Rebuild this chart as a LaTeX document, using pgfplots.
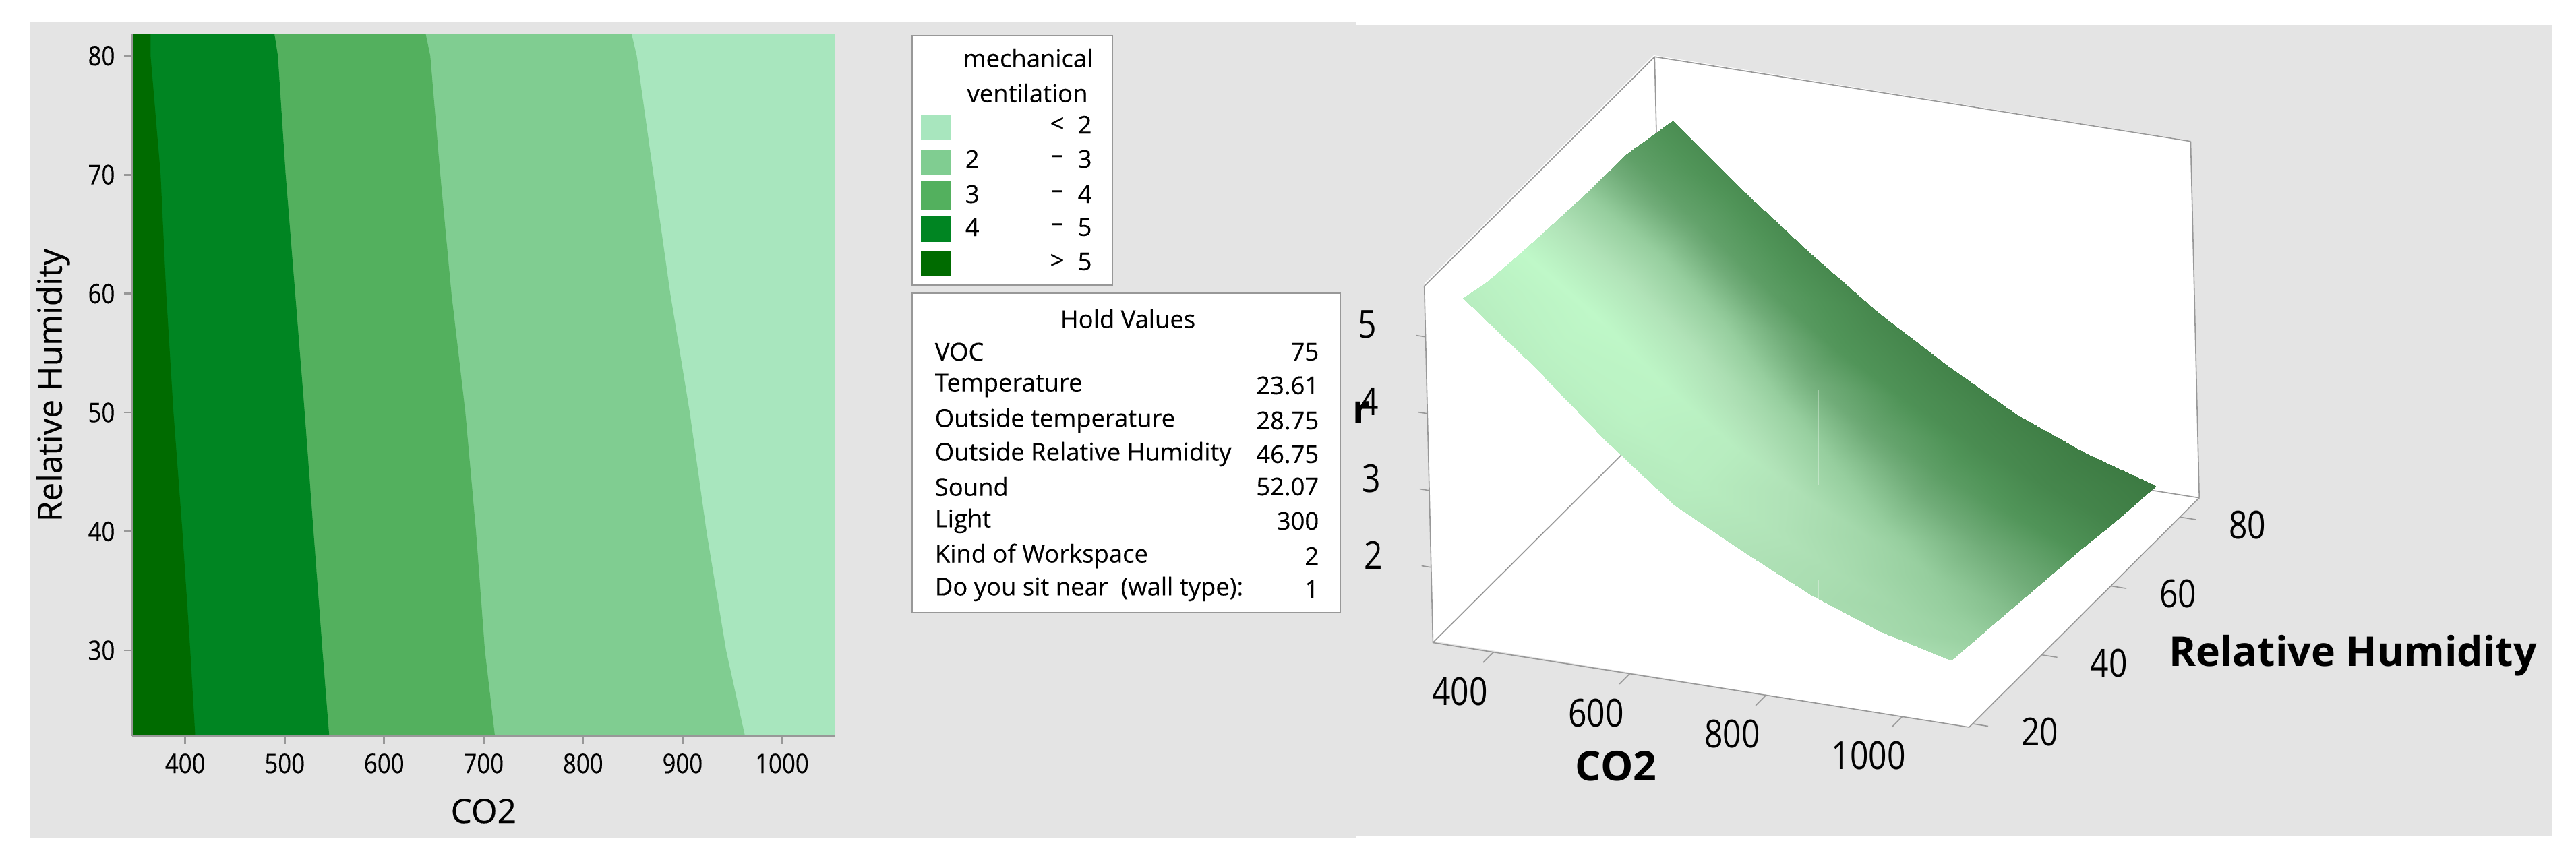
\documentclass[border=0pt]{standalone}
\usepackage{pgfplots}
\pgfplotsset{compat=1.18}
\usepackage{fontspec}
\setmainfont{Open Sans}
\newfontfamily\medfont[FakeBold=0.25]{Open Sans}
\newfontfamily\tickfont[FakeStretch=0.87,FakeBold=0.25]{Open Sans}
\newfontfamily\narrowfont[FakeStretch=0.84]{Open Sans}
\definecolor{pgrey}{HTML}{E4E4E4}
\definecolor{cA}{HTML}{A8E6BE}
\definecolor{cB}{HTML}{80CD91}
\definecolor{cC}{HTML}{53B05E}
\definecolor{cD}{HTML}{008522}
\definecolor{cE}{HTML}{006B00}
\definecolor{boxline}{HTML}{989898}
\newcommand{\lab}{\medfont\fontsize{9.1}{10}\selectfont}
\begin{document}
\begin{tikzpicture}
\path[use as bounding box] (0,0) rectangle (955.25pt,320.5pt);
\begin{scope}[shift={(0,320.5pt)},x=0.25pt,y=-0.25pt]
  \fill[pgrey] (44,32) rectangle (2011,1244);
  \fill[pgrey] (2011,37) rectangle (3785,1241);
  % legend
  \draw[boxline,line width=0.5pt,fill=white] (1352.6,52.7) rectangle (1650.2,423);
  \draw[boxline,line width=0.5pt,fill=white] (1352.6,435) rectangle (1988,909);
  \fill[cA] (1366,171) rectangle (1411,208);
  \fill[cB] (1366,222) rectangle (1411,259);
  \fill[cC] (1366,269) rectangle (1411,311);
  \fill[cD] (1366,321) rectangle (1411,359);
  \fill[cE] (1366,372) rectangle (1411,410);
  \node[font=\lab] at (1525,86) {mechanical};
  \node[font=\lab] at (1524,138) {ventilation};
  \foreach \yy/\a/\b/\c in {185//{<}/2,236/2/{–}/3,288/3/{–}/4,337/4/{–}/5,388//{>}/5}{
    \node[font=\lab,anchor=west,inner sep=0pt] at (1431,\yy) {\a};
    \node[font=\lab,inner sep=0pt] at (1568,\yy) {\b};
    \node[font=\lab,inner sep=0pt] at (1609,\yy) {\c};
  }
  \node[font=\lab] at (1673,473) {Hold Values};
  \foreach \yy/\a/\b in {522/VOC/75,572/Temperature/23.61,624/Outside temperature/28.75,674/Outside Relative Humidity/46.75,722/Sound/52.07,773/Light/300,825/Kind of Workspace/2,874/Do you sit near\ \ (wall type):/1}{
    \node[font=\lab,anchor=west,inner sep=0pt] at (1386,\yy) {\a};
    \node[font=\lab,anchor=east,inner sep=0pt] at (1957,\yy) {\b};
  }
  % 3D box walls (white)
  \fill[white] (2112.7,421) -- (2453,82) -- (3248.6,208.5) -- (3262.5,740) -- (2921,1079) -- (2125.4,951) -- cycle;
  \node[font=\bfseries\fontsize{15.2}{17}\selectfont,inner sep=0pt] at (3490,973) {Relative Humidity};
  \node[font=\bfseries\fontsize{15.2}{17}\selectfont,inner sep=0pt] at (2397,1136.6) {CO2};
  \node[font=\bfseries\fontsize{14.3}{16}\selectfont,inner sep=0pt] at (2019,612) {r};
\end{scope}

% left contour plot
\begin{axis}[
  at={(49.125pt,47.5pt)},anchor=south west,
  scale only axis,width=260.4pt,height=260.25pt,
  xmin=347,xmax=1053,ymin=22.8,ymax=81.8,
  axis x line*=bottom,axis y line*=left,
  axis line style={boxline,-,line width=0.7pt},
  tick align=outside,major tick length=3pt,
  tick style={boxline,line width=0.7pt},
  xtick={400,500,600,700,800,900,1000},
  ytick={30,40,50,60,70,80},
  /pgf/number format/assume math mode=true,
  /pgf/number format/set thousands separator={},
  tick label style={font=\tickfont\fontsize{10}{12}\selectfont},
  xlabel={CO2},ylabel={Relative Humidity},
  label style={font=\medfont\fontsize{12.4}{14}\selectfont},
  xlabel style={at={(axis description cs:0.5,-0.107)},anchor=center},
  ylabel style={at={(axis description cs:-0.113,0.5)},anchor=center},
  axis on top,
]
\addplot[fill=cA,draw=none] coordinates {(347,22.8)(1053,22.8)(1053,81.8)(347,81.8)} -- cycle;
\addplot[fill=cB,draw=none] coordinates {(347,22.8)(962.8,22.8)(943.8,30)(924.1,40)(907.3,50)(887.7,60)(870.8,70)(854,80)(848.9,81.8)(347,81.8)} -- cycle;
\addplot[fill=cC,draw=none] coordinates {(347,22.8)(711.4,22.8)(701.3,30)(692.4,40)(681.7,50)(667.7,60)(656.5,70)(646.4,80)(641.9,81.8)(347,81.8)} -- cycle;
\addplot[fill=cD,draw=none] coordinates {(347,22.8)(544.8,22.8)(538,30)(529,40)(520.1,50)(510.6,60)(501,70)(493.2,80)(489.8,81.8)(347,81.8)} -- cycle;
\addplot[fill=cE,draw=none] coordinates {(347,22.8)(410.1,22.8)(405.1,30)(397.2,40)(388.2,50)(380.9,60)(375.3,70)(365.2,80)(365.2,81.8)(347,81.8)} -- cycle;
\end{axis}

% right 3D surface
\begin{axis}[
  at={(528.175pt,50.75pt)},anchor=south west,
  x={(0.2526pt,-0.03985pt)},y={(1.282pt,1.2775pt)},z={(-0.6875pt,28.5pt)},
  xmin=311,xmax=1098,ymin=19,ymax=85.6,zmin=1.02,zmax=5.66,
  axis line style={boxline},
  major tick length=0pt,
  tick style={draw=none},
  clip=false,
  xtick={400,600,800,1000},ytick={20,40,60,80},ztick={2,3,4,5},
  /pgf/number format/assume math mode=true,
  /pgf/number format/set thousands separator={},
  tick label style={font=\narrowfont\fontsize{14.3}{16}\selectfont,anchor=center},
  xticklabel style={xshift=-12.5pt,yshift=-14.5pt},
  yticklabel style={xshift=25pt,yshift=-3pt},
  zticklabel style={xshift=-21.5pt,yshift=4.5pt},
  colormap={ml}{rgb255(0)=(191,248,200) rgb255(0.2)=(176,226,183) rgb255(0.4)=(150,206,158) rgb255(0.6)=(112,172,120) rgb255(0.8)=(80,148,88) rgb255(1)=(60,122,66)},
  point meta min=0,point meta max=1,
]
\addplot3[surf,shader=interp,mesh/rows=7,mesh/cols=8,point meta=explicit]
 table[x=x,y=y,z=z,meta=m] {
x y z m
347 23 5.38 .10
450 23 4.62 .08
550 23 3.82 .10
650 23 3.11 .13
750 23 2.64 .20
850 23 2.21 .25
950 23 1.88 .28
1053 23 1.65 .27
347 30 5.28 .06
450 30 4.60 .04
550 30 3.81 .05
650 30 3.10 .10
750 30 2.63 .18
850 30 2.20 .25
950 30 1.84 .32
1053 30 1.60 .38
347 40 5.22 .00
450 40 4.56 .00
550 40 3.79 .03
650 40 3.12 .10
750 40 2.63 .22
850 40 2.19 .32
950 40 1.81 .42
1053 40 1.54 .50
347 50 5.18 .20
450 50 4.50 .18
550 50 3.76 .20
650 50 3.11 .30
750 50 2.63 .42
850 50 2.17 .52
950 50 1.79 .58
1053 50 1.48 .65
347 60 5.15 .45
450 60 4.45 .42
550 60 3.72 .45
650 60 3.06 .55
750 60 2.59 .65
850 60 2.12 .72
950 60 1.75 .78
1053 60 1.42 .82
347 70 5.14 .70
450 70 4.39 .68
550 70 3.67 .72
650 70 3.01 .78
750 70 2.52 .82
850 70 2.05 .86
950 70 1.68 .90
1053 70 1.34 .93
354 82 5.05 .85
450 82 4.32 .85
550 82 3.61 .88
650 82 2.96 .90
750 82 2.42 .93
850 82 1.92 .95
950 82 1.56 .98
1053 82 1.27 1
};
% short tick marks on the three labelled edges
\draw[boxline] (axis cs:400,19,1.02) -- (axis cs:400,16,1.02);
\draw[boxline] (axis cs:600,19,1.02) -- (axis cs:600,16,1.02);
\draw[boxline] (axis cs:800,19,1.02) -- (axis cs:800,16,1.02);
\draw[boxline] (axis cs:1000,19,1.02) -- (axis cs:1000,16,1.02);
\draw[boxline] (axis cs:1098,20,1.02) -- (axis cs:1121,20,1.02);
\draw[boxline] (axis cs:1098,40,1.02) -- (axis cs:1121,40,1.02);
\draw[boxline] (axis cs:1098,60,1.02) -- (axis cs:1121,60,1.02);
\draw[boxline] (axis cs:1098,80,1.02) -- (axis cs:1121,80,1.02);
\draw[boxline] (axis cs:311,19,2) -- (axis cs:297,19,2);
\draw[boxline] (axis cs:311,19,3) -- (axis cs:297,19,3);
\draw[boxline] (axis cs:311,19,4) -- (axis cs:297,19,4);
\draw[boxline] (axis cs:311,19,5) -- (axis cs:297,19,5);
\end{axis}
\begin{scope}[shift={(0,320.5pt)},x=0.25pt,y=-0.25pt]
  \draw[white,opacity=0.35,line width=0.4pt] (2697,578) -- (2697,719);
  \draw[white,opacity=0.35,line width=0.4pt] (2697,860) -- (2697,893);
\end{scope}
\end{tikzpicture}
\end{document}
